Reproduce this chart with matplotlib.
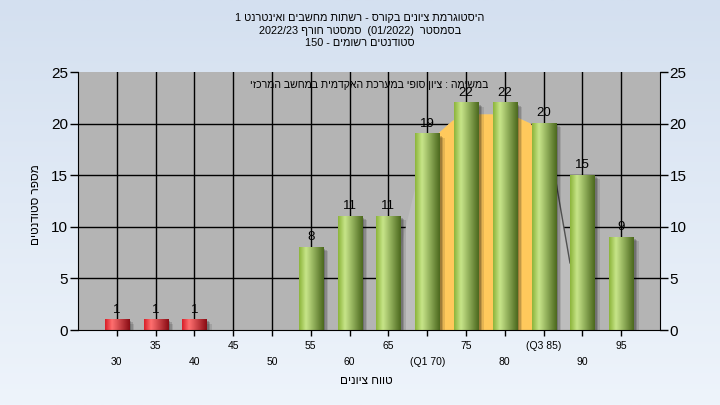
import re
import numpy as np
import matplotlib
matplotlib.use("Agg")
import matplotlib.pyplot as plt
import matplotlib.transforms as mtransforms
from matplotlib.colors import LinearSegmentedColormap
from matplotlib.patches import Rectangle

plt.rcParams["font.family"] = ["Liberation Sans", "DejaVu Sans"]

# נתונים
scores = [30, 35, 40, 45, 50, 55, 60, 65, 70, 75, 80, 85, 90, 95]
counts = [1, 1, 1, 0, 0, 8, 11, 11, 19, 22, 22, 20, 15, 9]
quartile_labels = {70: "(Q1 70)", 85: "(Q3 85)"}
q1, q3 = 70, 85
pass_score = 55
y_grid = [5, 10, 15, 20]

# smoothed curve behind the bars (score, students)
curve_score = [64.0, 67.25, 68.4, 70.0, 71.5, 73.3, 76.4, 78.3, 81.3, 83.35, 86.45, 88.4, 89.9]
curve_value = [0, 10, 13.6, 18.5, 19.1, 20.3, 20.9, 20.9, 20.7, 20.0, 15, 6.5, 0]

title_lines = [
    "היסטוגרמת ציונים בקורס - רשתות מחשבים ואינטרנט 1",
    "בסמסטר  (01/2022)  סמסטר חורף 2022/23",
    "סטודנטים רשומים - 150",
]
note = "במשימה : ציון סופי במערכת האקדמית במחשב המרכזי"
x_title = "טווח ציונים"
y_title = "מספר סטודנטים"


def rtl(s):
    # matplotlib has no bidi, so put the text in visual order
    s = s[::-1]
    s = re.sub(r"[0-9A-Za-z/.]+", lambda m: m.group(0)[::-1], s)
    return s.translate(str.maketrans("()", ")("))


def to_idx(v):
    return (np.asarray(v, dtype=float) - scores[0]) / (scores[1] - scores[0])


fig = plt.figure(figsize=(7.2, 4.05), dpi=100)

# figure background gradient
bg = fig.add_axes([0, 0, 1, 1], zorder=-1)
bg_cmap = LinearSegmentedColormap.from_list("bg", ["#eef4fb", "#d4e0f0"])
bg.imshow(np.linspace(0, 1, 256)[:, None], aspect="auto", cmap=bg_cmap,
          extent=[0, 1, 0, 1], origin="lower")
bg.axis("off")

ax = fig.add_axes([78 / 720, 75 / 405, 582 / 720, 258 / 405])
ax.set_facecolor("#b4b4b4")
ax.set_axisbelow(True)

x = np.arange(len(scores))
w = 0.62

for v in y_grid:
    ax.axhline(v, color="black", lw=1, zorder=0.6)

# curve area, orange between Q1 and Q3
cx = to_idx(curve_score)
ax.fill(cx, curve_value, color="#bdbdbd", lw=0, zorder=1)
orange = ax.fill(cx, curve_value, color="#ffc95c", lw=0, zorder=1.1)[0]
q_clip = Rectangle((to_idx(q1), 0), to_idx(q3) - to_idx(q1), 30, transform=ax.transData)
orange.set_clip_path(q_clip)
ax.plot(cx[-3:-1], curve_value[-3:-1], color="#505050", lw=1, zorder=1.2)

green = LinearSegmentedColormap.from_list(
    "g", [(0, "#8cb43a"), (0.28, "#c8e68a"), (1, "#4b681e")])
red = LinearSegmentedColormap.from_list(
    "r", [(0, "#d81e28"), (0.28, "#ff7070"), (1, "#8a0c14")])
grad = np.linspace(0, 1, 64)[None, :]

for i, (s, c) in enumerate(zip(scores, counts)):
    if c == 0:
        continue
    x0 = i - w / 2
    for dx, a in [(0.025, 0.18), (0.04, 0.15), (0.055, 0.1)]:
        tr = ax.transData + mtransforms.ScaledTranslation(dx, -dx * 0.7, fig.dpi_scale_trans)
        ax.add_patch(Rectangle((x0, 0), w, c, transform=tr, color="black",
                               alpha=a, lw=0, zorder=1.5))
    ax.imshow(grad, cmap=red if s < pass_score else green, aspect="auto",
              extent=(x0, x0 + w, 0, c), interpolation="bicubic", zorder=2)
    ax.annotate(str(c), (i, c), xytext=(0, 3), textcoords="offset points",
                ha="center", va="bottom", fontsize=9.5, zorder=3)

ax.set_xlim(-1, len(scores))
ax.set_ylim(0, 25)
ax.set_yticks(range(0, 26, 5))
ax.set_xticks(x)
labels = []
for i, s in enumerate(scores):
    t = quartile_labels.get(s, str(s))
    labels.append("\n" + t if i % 2 == 0 else t + "\n")
ax.set_xticklabels(labels)
for lbl in ax.get_xticklabels():
    lbl.set_linespacing(1.8)

ax.grid(True, axis="x", color="black", lw=1)
ax.tick_params(axis="y", direction="out", length=5.5, labelsize=11,
               right=True, labelright=True, width=1, pad=1.5)
ax.tick_params(axis="x", direction="out", length=4.3, labelsize=7.5, width=1, pad=3.5)
ax.spines["top"].set_visible(False)
for side in ["left", "right", "bottom"]:
    ax.spines[side].set_color("black")

ax.text(0.5, 0.95, rtl(note), transform=ax.transAxes, ha="center", va="center",
        fontsize=7.6, zorder=4)

for k, line in enumerate(title_lines):
    fig.text(0.5, 1 - (18 + 12.5 * k) / 405, rtl(line), ha="center", va="center",
             fontsize=7.8)
fig.text(366 / 720, 1 - 381 / 405, rtl(x_title), ha="center", va="center", fontsize=8.5)
fig.text(36 / 720, 1 - 205 / 405, rtl(y_title), ha="center", va="center",
         rotation=90, fontsize=8.5)

fig.savefig("out.png", dpi=100)
